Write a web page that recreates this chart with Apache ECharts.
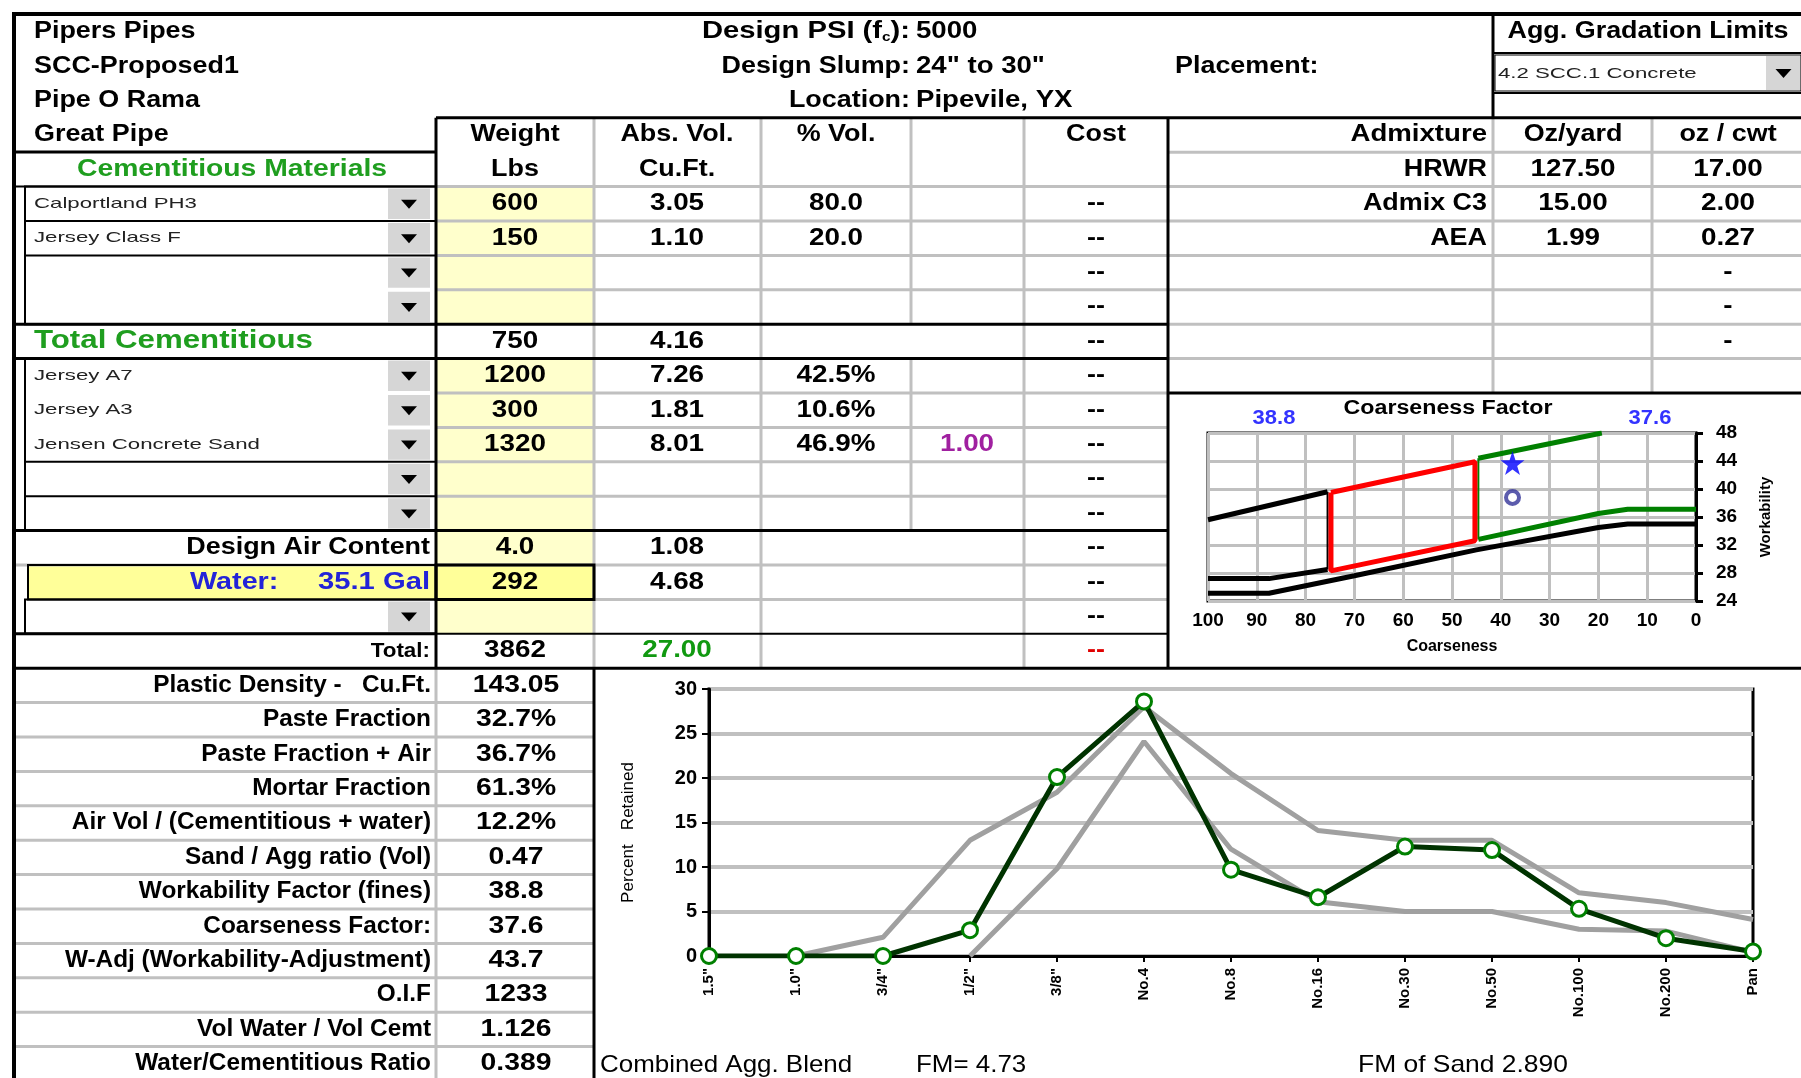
<!DOCTYPE html>
<html>
<head>
<meta charset="utf-8">
<script src="https://cdn.jsdelivr.net/npm/echarts@6/dist/echarts.min.js"></script>
<style>
  html, body { margin: 0; padding: 0; background: #fff; }
  #chart { width: 1801px; height: 1078px; }
</style>
</head>
<body>
<div id="chart"></div>
<script>
// --- sheet header ---
const jobInfo = ['Pipers Pipes', 'SCC-Proposed1', 'Pipe O Rama', 'Great Pipe']
const designLabels = ['Design PSI (f', 'Design Slump:', 'Location:']
const designValues = ['5000', '24" to 30"', 'Pipevile, YX']
const gradationLimit = '4.2 SCC.1 Concrete'

// --- mix table ---
const cemNames = ['Calportland PH3', 'Jersey Class F', '', '']
const cemWeight = ['600', '150', '', '']
const cemAbsVol = ['3.05', '1.10', '', '']
const cemPctVol = ['80.0', '20.0', '', '']
const totalCem = ['750', '4.16']
const aggNames = ['Jersey A7', 'Jersey A3', 'Jensen Concrete Sand', '', '']
const aggWeight = ['1200', '300', '1320', '', '']
const aggAbsVol = ['7.26', '1.81', '8.01', '', '']
const aggPctVol = ['42.5%', '10.6%', '46.9%', '', '']
const aggFactor = ['', '', '1.00', '', '']
const airRow = ['4.0', '1.08']
const waterRow = ['35.1 Gal', '292', '4.68']
const totalRow = ['3862', '27.00']

// --- admixtures ---
const admixNames = ['HRWR', 'Admix C3', 'AEA', '', '', '']
const admixOzYard = ['127.50', '15.00', '1.99', '', '', '']
const admixOzCwt = ['17.00', '2.00', '0.27', '-', '-', '-']

// --- mix properties ---
const statLabels = ['Plastic Density -   Cu.Ft.', 'Paste Fraction', 'Paste Fraction + Air', 'Mortar Fraction',
  'Air Vol / (Cementitious + water)', 'Sand / Agg ratio (Vol)', 'Workability Factor (fines)', 'Coarseness Factor:',
  'W-Adj (Workability-Adjustment)', 'O.I.F', 'Vol Water / Vol Cemt', 'Water/Cementitious Ratio']
const statValues = ['143.05', '32.7%', '36.7%', '61.3%', '12.2%', '0.47', '38.8', '37.6', '43.7', '1233', '1.126', '0.389']

// --- coarseness factor chart ---
const workability = 38.8
const coarseness = 37.6
const workabilityAdj = 43.7
const cfUpperBlack = [[100, 35.6], [75.5, 39.6]]
const cfLowerBlack = [[100, 27.2], [87.5, 27.2], [75.5, 28.5]]
const cfLeftBlack = [[75.5, 28.5], [75.5, 39.6]]
const cfRedBox = [[74.8, 39.5], [45.3, 43.9], [45.3, 32.6], [74.8, 28.3], [74.8, 39.5]]
const cfUpperGreen = [[44.6, 44.4], [19.3, 48]]
const cfLowerGreen = [[44.6, 32.8], [20, 36.5], [14, 37.1], [0, 37.1]]
const cfRightGreen = [[44.6, 32.8], [44.6, 44.4]]
const cfBottomBlack = [[100, 25.1], [87.5, 25.1], [70, 27.6], [45, 31.3], [20, 34.5], [14, 35], [0, 35]]

// --- gradation chart ---
const sieves = ['1.5"', '1.0"', '3/4"', '1/2"', '3/8"', 'No.4', 'No.8', 'No.16', 'No.30', 'No.50', 'No.100', 'No.200', 'Pan']
const blendRetained = [0, 0, 0, 2.9, 20.1, 28.6, 9.7, 6.6, 12.3, 11.9, 5.3, 2.0, 0.5]
const upperLimit = [null, 0, 2.1, 13, 18.4, 28, 20.5, 14.1, 13, 13, 7.1, 6, 4.1]
const lowerLimit = [null, null, null, 0, 9.8, 24.1, 12, 6.1, 5, 5, 3, 2.8, 0.4]
const fmBlend = '4.73'
const fmSand = '2.890'

const FONT = '"Liberation Sans", Arial, Helvetica, sans-serif'
const GRAY = '#c0c0c0'
const rowTop = i => 117.8 + 34.4 * i
const rowMid = i => rowTop(i) + 17.2

const g = []
function rect(x, y, w, h, fill, stroke, lw, z) {
  g.push({ type: 'rect', z: z || 1, shape: { x, y, width: w, height: h },
    style: { fill: fill || 'none', stroke: stroke || 'none', lineWidth: lw || 0 } })
}
function line(x1, y1, x2, y2, color, w, z) {
  g.push({ type: 'line', z: z || 2, shape: { x1, y1, x2, y2 }, style: { stroke: color, lineWidth: w } })
}
function text(x, y, s, o = {}) {
  g.push({
    type: 'text', z: 5, x, y, scaleX: o.sx || 1.17,
    style: {
      text: s, fill: o.color || '#000', fontSize: o.size || 23, fontWeight: o.weight || 'bold',
      fontFamily: FONT, align: o.align || 'center', verticalAlign: 'middle', rich: o.rich
    }
  })
}
const num = (x, y, s, o = {}) => text(x, y, s, { sx: 1.21, ...o })
function small(x, y, s) {
  text(x, y, s, { align: 'left', size: 15, weight: 'normal', sx: 1.48, color: '#222' })
}
function arrowButton(x, y, w, h) {
  rect(x, y, w, h, '#d6d6d6', null, 0, 2)
  const cx = x + w / 2, cy = y + h / 2
  g.push({ type: 'polygon', z: 4, shape: { points: [[cx - 8, cy - 4], [cx + 8, cy - 4], [cx, cy + 5]] }, style: { fill: '#000' } })
}

// fills
;[2, 3, 4, 5, 7, 8, 9, 10, 11, 12, 14].forEach(i => rect(436, rowTop(i), 158, 34.4, '#ffffcc'))
rect(28, rowTop(13), 566, 34.4, '#ffff99')

// light grid lines
;[594, 761, 1024].forEach(x => line(x, 117.8, x, 668.2, GRAY, 3))
line(911, 117.8, 911, rowTop(6), GRAY, 3)
line(911, rowTop(7), 911, rowTop(12), GRAY, 3)
;[2, 3, 4, 5, 8, 9, 10, 11, 13, 14].forEach(i => line(436, rowTop(i), 1168, rowTop(i), GRAY, 3))
for (let i = 1; i <= 7; i++) line(1168, rowTop(i), 1801, rowTop(i), GRAY, 3)
line(1493, 117.8, 1493, rowTop(8), GRAY, 3)
line(1652, 117.8, 1652, rowTop(8), GRAY, 3)
for (let i = 17; i <= 27; i++) line(16, rowTop(i), 594, rowTop(i), GRAY, 3)
line(436, 668.2, 436, 1078, GRAY, 3)
line(16, rowTop(13), 436, rowTop(13), GRAY, 3)

// dropdown boxes
rect(25, rowTop(2), 411, 34.4 * 4, null, '#000', 2, 3)
line(25, rowTop(3), 436, rowTop(3), '#000', 2, 3)
line(25, rowTop(4), 436, rowTop(4), '#000', 2, 3)
rect(25, rowTop(7), 411, 34.4 * 5, null, '#000', 2, 3)
line(25, rowTop(10), 436, rowTop(10), '#000', 2, 3)
line(25, rowTop(11), 436, rowTop(11), '#000', 2, 3)
rect(25, rowTop(14), 411, 34.4, null, '#000', 2, 3)
;[2, 3, 4, 5, 7, 8, 9, 10, 11, 14].forEach(i => arrowButton(388, rowTop(i) + 2, 42, 30.4))
rect(1495, 55, 306, 36, null, '#000', 1, 3)
arrowButton(1766, 56, 35, 34)

// water row box
rect(28, rowTop(13), 566, 34.4, null, '#000', 2, 3)
rect(436, rowTop(13), 158, 34.4, null, '#000', 3, 3)

// heavy frame lines
line(12, 14, 1801, 14, '#000', 4, 3)
line(14, 12, 14, 1078, '#000', 4, 3)
line(14, 152, 436, 152, '#000', 3, 3)
line(436, 117.8, 1801, 117.8, '#000', 3, 3)
line(436, 117.8, 436, 668.2, '#000', 3, 3)
line(1168, 117.8, 1168, 668.2, '#000', 3, 3)
line(1493, 14, 1493, 117.8, '#000', 3, 3)
line(1493, 53, 1801, 53, '#000', 2, 3)
line(1493, 93, 1801, 93, '#000', 2, 3)
line(14, rowTop(2), 436, rowTop(2), '#000', 2, 3)
line(14, rowTop(6), 1168, rowTop(6), '#000', 3, 3)
line(14, rowTop(7), 1168, rowTop(7), '#000', 3, 3)
line(14, rowTop(12), 1168, rowTop(12), '#000', 3, 3)
line(14, rowTop(15), 436, rowTop(15), '#000', 3, 3)
line(436, rowTop(15), 1168, rowTop(15), '#000', 2, 3)
line(14, 668.2, 1801, 668.2, '#000', 3, 3)
line(1168, rowTop(8), 1801, rowTop(8), '#000', 3, 3)
line(594, 668.2, 594, 1078, '#000', 3, 3)

// header texts
jobInfo.forEach((s, k) => text(34, rowMid(k - 3), s, { align: 'left' }))
const sub = { m: { fontSize: 23, fontWeight: 'bold', fontFamily: FONT }, s: { fontSize: 12, fontWeight: 'bold', fontFamily: FONT, padding: [12, 0, 0, 0] } }
text(910, rowMid(-3), '{m|' + designLabels[0] + '}{s|c}{m|):}', { align: 'right', rich: sub, sx: 1.27 })
text(910, rowMid(-2), designLabels[1], { align: 'right' })
text(910, rowMid(-1), designLabels[2], { align: 'right' })
designValues.forEach((s, k) => text(916, rowMid(k - 3), s, { align: 'left', sx: 1.2 }))
text(1175, rowMid(-2), 'Placement:', { align: 'left' })
text(1648, rowMid(-3), 'Agg. Gradation Limits')
small(1498, 74, gradationLimit)

// column headers
text(515, rowMid(0), 'Weight'); text(515, rowMid(1), 'Lbs')
text(677, rowMid(0), 'Abs. Vol.'); text(677, rowMid(1), 'Cu.Ft.')
text(836, rowMid(0), '% Vol.')
text(1096, rowMid(0), 'Cost')
text(1487, rowMid(0), 'Admixture', { align: 'right', sx: 1.2 })
text(1573, rowMid(0), 'Oz/yard')
text(1728, rowMid(0), 'oz / cwt')
text(232, rowMid(1), 'Cementitious Materials', { color: '#1f9e1f', size: 24, sx: 1.18 })

// cementitious rows
cemNames.forEach((s, k) => {
  const r = k + 2
  if (s) small(34, rowMid(r), s)
  num(515, rowMid(r), cemWeight[k]); num(677, rowMid(r), cemAbsVol[k]); num(836, rowMid(r), cemPctVol[k])
})
text(34, rowMid(6), 'Total Cementitious', { align: 'left', color: '#1f9e1f', size: 25, sx: 1.25 })
num(515, rowMid(6), totalCem[0]); num(677, rowMid(6), totalCem[1])

// aggregate rows
aggNames.forEach((s, k) => {
  const r = k + 7
  if (s) small(34, rowMid(r), s)
  num(515, rowMid(r), aggWeight[k]); num(677, rowMid(r), aggAbsVol[k]); num(836, rowMid(r), aggPctVol[k])
  num(967, rowMid(r), aggFactor[k], { color: '#a020a0' })
})
text(430, rowMid(12), 'Design Air Content', { align: 'right' })
num(515, rowMid(12), airRow[0]); num(677, rowMid(12), airRow[1])
text(190, rowMid(13), 'Water:', { align: 'left', color: '#2323d8', sx: 1.25 })
text(430, rowMid(13), waterRow[0], { align: 'right', color: '#2323d8', sx: 1.27 })
num(515, rowMid(13), waterRow[1]); num(677, rowMid(13), waterRow[2])
text(430, rowMid(15), 'Total:', { align: 'right', size: 20, sx: 1.12 })
num(515, rowMid(15), totalRow[0]); num(677, rowMid(15), totalRow[1], { color: '#119911' })
for (let r = 2; r <= 15; r++) text(1096, rowMid(r), '--', { color: r === 15 ? '#e00000' : '#000' })

// admixtures
admixNames.forEach((s, k) => {
  const r = k + 1
  text(1487, rowMid(r), s, { align: 'right' })
  num(1573, rowMid(r), admixOzYard[k]); num(1728, rowMid(r), admixOzCwt[k])
})

// properties
statLabels.forEach((s, k) => {
  text(431, rowMid(16 + k), s, { align: 'right', sx: 1.06 })
  num(516, rowMid(16 + k), statValues[k], { sx: 1.23 })
})

// chart captions
text(1448, 408, 'Coarseness Factor', { size: 20, sx: 1.16 })
text(1274, 418, String(workability), { color: '#3333ff', size: 20, sx: 1.1 })
text(1650, 418, String(coarseness), { color: '#3333ff', size: 20, sx: 1.1 })
text(600, 1065, 'Combined Agg. Blend', { align: 'left', weight: 'normal', size: 24, sx: 1.08 })
text(916, 1065, 'FM= ' + fmBlend, { align: 'left', weight: 'normal', size: 24, sx: 1.08 })
text(1358, 1065, 'FM of Sand ' + fmSand, { align: 'left', weight: 'normal', size: 24, sx: 1.1 })

const axisFont = { fontFamily: FONT, fontWeight: 'bold', color: '#000' }
const cfLine = (data, color, width) => ({
  type: 'line', xAxisIndex: 0, yAxisIndex: 0, data, symbol: 'none', silent: true,
  lineStyle: { color, width }
})
const starPath = 'path://M50 0L61.8 35.1L98.1 35.1L68.7 56.7L79.9 91.9L50 70.3L20.1 91.9L31.3 56.7L1.9 35.1L38.2 35.1Z'

const option = {
  animation: false,
  backgroundColor: '#fff',
  graphic: { elements: g },
  grid: [
    { left: 1208, top: 433, width: 488, height: 168, show: true, borderColor: '#000', borderWidth: 3, outerBoundsMode: 'none' },
    { left: 709, top: 689, width: 1044, height: 267, show: true, borderColor: '#000', borderWidth: 3, outerBoundsMode: 'none' }
  ],
  xAxis: [
    {
      gridIndex: 0, type: 'value', min: 0, max: 100, interval: 10, inverse: true,
      axisLine: { show: false }, axisTick: { show: false },
      splitLine: { lineStyle: { color: GRAY, width: 3 } },
      axisLabel: { ...axisFont, fontSize: 19, margin: 10 },
      name: 'Coarseness', nameLocation: 'middle', nameGap: 38,
      nameTextStyle: { ...axisFont, fontSize: 16 }
    },
    {
      gridIndex: 1, type: 'category', data: sieves, boundaryGap: false,
      axisLine: { lineStyle: { color: '#000', width: 3 } },
      axisTick: { show: true, length: 6, lineStyle: { color: '#000', width: 2 } },
      axisLabel: { ...axisFont, fontSize: 15, rotate: 90, margin: 12 },
      splitLine: { show: false }
    }
  ],
  yAxis: [
    {
      gridIndex: 0, type: 'value', min: 24, max: 48, interval: 4, position: 'right',
      axisLine: { show: true, lineStyle: { color: '#000', width: 3 } },
      axisTick: { show: true, length: 7, lineStyle: { color: '#000', width: 3 } },
      splitLine: { lineStyle: { color: GRAY, width: 3 } },
      axisLabel: { ...axisFont, fontSize: 19, margin: 20 },
      name: 'Workability', nameLocation: 'middle', nameRotate: 90, nameGap: 62,
      nameTextStyle: { ...axisFont, fontSize: 15 }
    },
    {
      gridIndex: 1, type: 'value', min: 0, max: 30, interval: 5,
      axisLine: { show: true, lineStyle: { color: '#000', width: 3 } },
      axisTick: { show: true, length: 7, lineStyle: { color: '#000', width: 2 } },
      splitLine: { lineStyle: { color: GRAY, width: 4 } },
      axisLabel: { ...axisFont, fontSize: 20, margin: 12 },
      name: 'Percent   Retained', nameLocation: 'middle', nameRotate: 90, nameGap: 72,
      nameTextStyle: { ...axisFont, fontSize: 17, fontWeight: 'normal', padding: [0, 0, 0, -20] }
    }
  ],
  series: [
    cfLine(cfBottomBlack, '#000', 5),
    cfLine(cfLowerBlack, '#000', 5),
    cfLine(cfUpperBlack, '#000', 5),
    cfLine(cfLeftBlack, '#000', 2),
    cfLine(cfUpperGreen, '#008000', 5),
    cfLine(cfLowerGreen, '#008000', 5),
    cfLine(cfRightGreen, '#008000', 2),
    cfLine(cfRedBox, '#ff0000', 5),
    {
      type: 'scatter', xAxisIndex: 0, yAxisIndex: 0, data: [[coarseness, workabilityAdj]],
      symbol: starPath, symbolSize: 24, itemStyle: { color: '#0000ff' }, z: 5
    },
    {
      type: 'scatter', xAxisIndex: 0, yAxisIndex: 0, data: [[coarseness, workability]],
      symbol: 'circle', symbolSize: 13, itemStyle: { color: '#fff', borderColor: '#333399', borderWidth: 4 }, z: 5
    },
    {
      type: 'line', xAxisIndex: 1, yAxisIndex: 1, data: upperLimit, symbol: 'none',
      lineStyle: { color: '#a0a0a0', width: 5 }, z: 2
    },
    {
      type: 'line', xAxisIndex: 1, yAxisIndex: 1, data: lowerLimit, symbol: 'none',
      lineStyle: { color: '#a0a0a0', width: 5 }, z: 2
    },
    {
      type: 'line', xAxisIndex: 1, yAxisIndex: 1, data: blendRetained,
      symbol: 'circle', symbolSize: 15, showAllSymbol: true,
      lineStyle: { color: '#003300', width: 5 },
      itemStyle: { color: '#fff', borderColor: '#008000', borderWidth: 3 }, z: 3
    }
  ]
}

const chart = echarts.init(document.getElementById('chart'))
chart.setOption(option)
</script>
</body>
</html>
